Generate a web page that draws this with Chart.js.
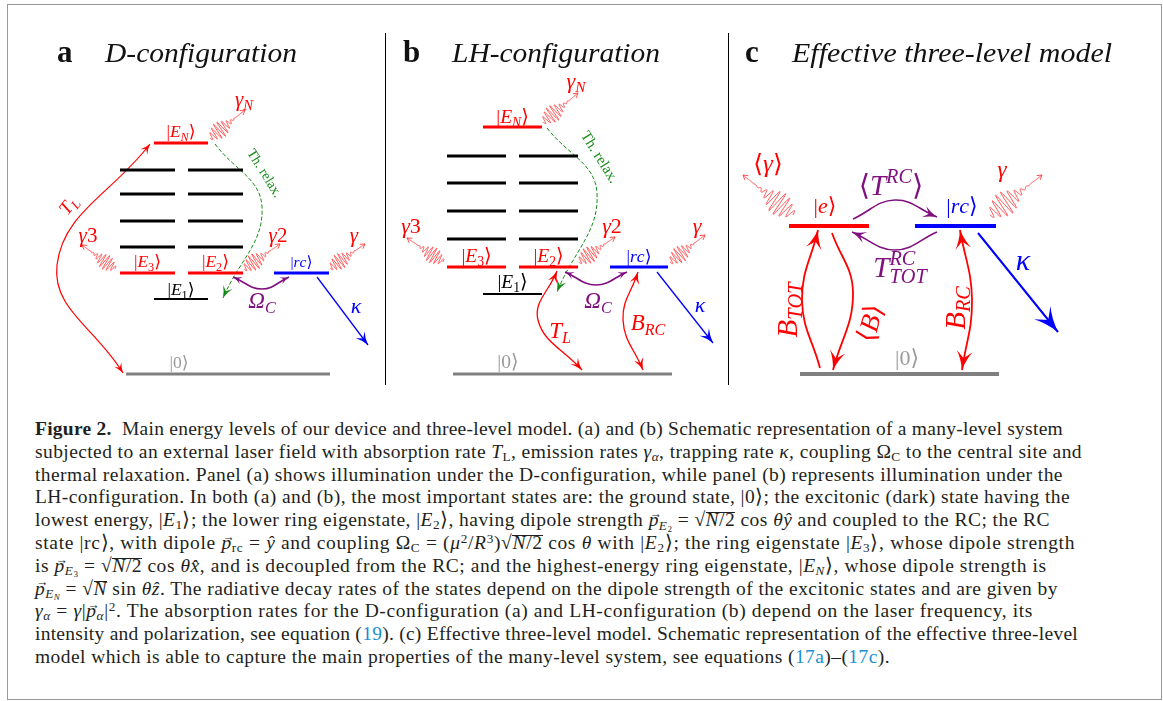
<!DOCTYPE html>
<html>
<head>
<meta charset="utf-8">
<title>Energy levels and three-level model</title>
<script src="https://cdn.jsdelivr.net/npm/chart.js"></script>
<style>
  body { margin: 0; background: #fff; }
  #frame { position: absolute; left: 7px; top: 4px; width: 1153px; height: 694px; border: 1px solid #999; }
  #wrap { position: absolute; left: 0; top: 0; width: 1163px; height: 400px; }
  .sep { position: absolute; top: 33px; height: 352px; width: 1px; background: #000; }
  #caption { position: absolute; left: 35px; top: 418px; font: 19.5px "Liberation Serif", serif; line-height: 22.8px; color: #231f20; white-space: nowrap; }
  #caption div { height: 22.8px; }
  #caption sub, #caption sup { font-size: 0.68em; line-height: 0; }
  #caption sub { vertical-align: -0.25em; }
  #caption sup { vertical-align: 0.45em; }
  #caption a { color: #1a8fd2; text-decoration: none; }
  .ov { position: relative; }
  .ov::before { content: ''; position: absolute; left: 0; right: 0; top: 0.16em; border-top: 1px solid #231f20; }
  .vec { position: relative; font-style: italic; }
  .vec::after { content: '→'; position: absolute; left: 0.08em; top: -0.52em; font-size: 0.62em; font-style: normal; }
</style>
</head>
<body>
<div id="frame"></div>
<div id="wrap"><canvas id="diagram"></canvas></div>
<div class="sep" style="left:385px"></div>
<div class="sep" style="left:728px"></div>
<div id="caption">
  <div><b>Figure 2.</b>&nbsp;&nbsp;Main energy levels of our device and three-level model. (a) and (b) Schematic representation of a many-level system</div>
  <div>subjected to an external laser field with absorption rate <i>T</i><sub>L</sub>, emission rates <i>γ<sub>α</sub></i>, trapping rate <i>κ</i>, coupling Ω<sub>C</sub> to the central site and</div>
  <div>thermal relaxation. Panel (a) shows illumination under the D-configuration, while panel (b) represents illumination under the</div>
  <div>LH-configuration. In both (a) and (b), the most important states are: the ground state, |0⟩; the excitonic (dark) state having the</div>
  <div>lowest energy, |<i>E</i><sub>1</sub>⟩; the lower ring eigenstate, |<i>E</i><sub>2</sub>⟩, having dipole strength <span class="vec">p</span><sub><i>E</i><sub>2</sub></sub> = √<span class="ov"><i>N</i>/2</span> cos <i>θŷ</i> and coupled to the RC; the RC</div>
  <div>state |rc⟩, with dipole <span class="vec">p</span><sub>rc</sub> = <i>ŷ</i> and coupling Ω<sub>C</sub> = (<i>μ</i><sup>2</sup>/<i>R</i><sup>3</sup>)√<span class="ov"><i>N</i>/2</span> cos <i>θ</i> with |<i>E</i><sub>2</sub>⟩; the ring eigenstate |<i>E</i><sub>3</sub>⟩, whose dipole strength</div>
  <div>is <span class="vec">p</span><sub><i>E</i><sub>3</sub></sub> = √<span class="ov"><i>N</i>/2</span> cos <i>θx̂</i>, and is decoupled from the RC; and the highest-energy ring eigenstate, |<i>E<sub>N</sub></i>⟩, whose dipole strength is</div>
  <div><span class="vec">p</span><sub><i>E<sub>N</sub></i></sub> = √<span class="ov"><i>N</i></span> sin <i>θẑ</i>. The radiative decay rates of the states depend on the dipole strength of the excitonic states and are given by</div>
  <div><i>γ<sub>α</sub></i> = <i>γ</i>|<span class="vec">p</span><sub><i>α</i></sub>|<sup>2</sup>. The absorption rates for the D-configuration (a) and LH-configuration (b) depend on the laser frequency, its</div>
  <div>intensity and polarization, see equation (<a>19</a>). (c) Effective three-level model. Schematic representation of the effective three-level</div>
  <div>model which is able to capture the main properties of the many-level system, see equations (<a>17a</a>)–(<a>17c</a>).</div>
</div>

<script>
// ---------------- data ----------------
// energies in arbitrary units, ground state |0> = 0

// panel a: D-configuration
const statesA = ['EN', 'E3', 'E2', 'E1', 'rc', 'G'];
const ketsA = ['|E_N⟩', '|E_3⟩', '|E_2⟩', '|E_1⟩', '|rc⟩', '|0⟩'];
const energyA = [231, 101, 101, 75, 101, 0];
const ladderA = [204, 180, 153, 127];
const ratesA = ['T_L', 'Th. relax.', 'Ω_C', 'κ', 'γ_N', 'γ3', 'γ2', 'γ'];

// panel b: LH-configuration
const statesB = ['EN', 'E3', 'E2', 'E1', 'rc', 'G'];
const ketsB = ['|E_N⟩', '|E_3⟩', '|E_2⟩', '|E_1⟩', '|rc⟩', '|0⟩'];
const energyB = [247, 107, 107, 80, 107, 0];
const ladderB = [218, 191, 163, 135];
const ratesB = ['T_L', 'B_{RC}', 'Ω_C', 'Th. relax.', 'κ', 'γ_N', 'γ3', 'γ2', 'γ'];

// panel c: effective three-level model
const statesC = ['e', 'rc', 'G'];
const ketsC = ['|e⟩', '|rc⟩', '|0⟩'];
const energyC = [148, 148, 0];
const ratesC = ['⟨T^{RC}⟩', 'T^{RC}_{TOT}', 'B_{TOT}', '⟨B⟩', 'B_{RC}', 'κ', '⟨γ⟩', 'γ'];

const panelLetters = ['a', 'b', 'c'];
const panelTitles = ['D-configuration', 'LH-configuration', 'Effective three-level model'];

// ---------------- layout / style ----------------
const RED = '#ff0000', BLUE = '#0000ff', PURPLE = '#80107f', GREEN = '#168a16',
      GREY = '#808080', BLACK = '#000000', PHOTON = 'rgba(255,50,50,0.85)';
const SERIF = '"Liberation Serif", "DejaVu Serif", serif';

const STATE_COLOR = { EN: RED, E3: RED, E2: RED, E1: BLACK, rc: BLUE, G: GREY, e: RED };

// arrow ends: [x, state, dy] -> y = energy(state) + dy ; state null -> y = dy
const panels = [
  {
    states: statesA, kets: ketsA, energy: energyA, ladder: ladderA, rates: ratesA,
    cols: { EN: [154, 208], E3: [120, 175], E2: [188, 243], E1: [154, 208], rc: [274, 329], G: [126, 330] },
    ladderCols: [[120, 175], [188, 243]],
    width: { EN: 3, E3: 3, E2: 3, E1: 2, rc: 3, G: 3 },
    ket: { size: 17.5, dy: 6, x: { G: 179 }, dyOf: { E1: 4 } },
    title: { letterX: 57, x: 105, w: 192 },
    arrows: {
      'T_L':        { from: [150, 'EN', -1], via: [57, 109], to: [123, 'G', 1], heads: 'both', color: RED, w: 1.2, head: 10 },
      'Th. relax.': { from: [215, 'EN', -1], via: [262, 167], to: [223, 'E1', 1], heads: 'end', color: GREEN, w: 1, head: 12, dash: [4, 2] },
      'Ω_C':        { from: [233, 'E2', -4], via: [262, 85], to: [289, 'rc', -4], heads: 'both', color: PURPLE, w: 1.6, head: 9 },
      'κ':          { from: [317, 'rc', -4], to: [368, null, 29], heads: 'end', color: BLUE, w: 1.3, head: 13 }
    },
    photons: {
      'γ_N': { from: [210, 'EN', 5], to: [245, null, 264] },
      'γ3':  { from: [115, 'E3', 4], to: [82, null, 129] },
      'γ2':  { from: [244, 'E2', 4], to: [280, null, 130] },
      'γ':   { from: [330, 'rc', 5], to: [365, null, 130] }
    },
    labels: {
      'T_L': [68, 169, 19, -52], 'Th. relax.': [265, 201, 14, 58], 'Ω_C': [262, 66, 23],
      'κ': [356, 61, 22], 'γ_N': [244, 268, 21], 'γ3': [88, 132, 21], 'γ2': [278, 132, 21], 'γ': [354, 132, 21]
    }
  },
  {
    states: statesB, kets: ketsB, energy: energyB, ladder: ladderB, rates: ratesB,
    cols: { EN: [483, 542], E3: [447, 506], E2: [519, 578], E1: [483, 542], rc: [610, 668], G: [453, 672] },
    ladderCols: [[447, 506], [519, 578]],
    width: { EN: 3, E3: 3, E2: 3, E1: 2, rc: 3, G: 3 },
    ket: { size: 19.5, dy: 5, x: { G: 508 }, dyOf: { E1: 6, EN: 4, G: 6 } },
    title: { letterX: 403, x: 452, w: 208 },
    arrows: {
      'T_L':        { from: [557, 'E2', -4], via: [538, 54], to: [582, 'G', 4], heads: 'both', color: RED, w: 1.3, head: 12 },
      'B_{RC}':     { from: [638, 'rc', -5], via: [623, 54], to: [643, 'G', 4], heads: 'both', color: RED, w: 1.3, head: 12 },
      'Ω_C':        { from: [565, 'E2', -5], via: [596, 89], to: [627, 'rc', -5], heads: 'both', color: PURPLE, w: 1.6, head: 9 },
      'Th. relax.': { from: [547, 'EN', -1], via: [597, 181], to: [557, 'E1', 2], heads: 'end', color: GREEN, w: 1, head: 12, dash: [4, 2] },
      'κ':          { from: [657, 'rc', -5], to: [713, null, 31], heads: 'end', color: BLUE, w: 1.3, head: 14 }
    },
    photons: {
      'γ_N': { from: [543, 'EN', 5], to: [578, null, 281] },
      'γ3':  { from: [443, 'E3', 5], to: [407, null, 136] },
      'γ2':  { from: [579, 'E2', 5], to: [615, null, 137] },
      'γ':   { from: [670, 'rc', 5], to: [705, null, 139] }
    },
    labels: {
      'T_L': [560, 36, 23], 'B_{RC}': [648, 44, 23], 'Ω_C': [598, 66, 23], 'Th. relax.': [600, 217, 15, 58],
      'κ': [700, 62, 22], 'γ_N': [576, 286, 22], 'γ3': [411, 141, 22], 'γ2': [612, 141, 22], 'γ': [697, 141, 22]
    }
  },
  {
    states: statesC, kets: ketsC, energy: energyC, ladder: [], rates: ratesC,
    cols: { e: [789, 869], rc: [915, 996], G: [800, 999] },
    ladderCols: [],
    width: { e: 4, rc: 4, G: 4 },
    ket: { size: 22, dy: 13, x: { e: 825, rc: 962, G: 907 }, dyOf: { G: 9 } },
    title: { letterX: 745, x: 792, w: 320 },
    arrows: {
      '⟨T^{RC}⟩':     { from: [853, 'e', 7], via: [895, 174], to: [937, 'rc', 9], heads: 'end', color: PURPLE, w: 1.6, head: 14 },
      'T^{RC}_{TOT}': { from: [937, 'rc', -6], via: [895, 124], to: [852, 'e', -6], heads: 'end', color: PURPLE, w: 1.6, head: 14 },
      'B_{TOT}':      { from: [820, 'G', 6], via: [802, 74], to: [818, 'e', -4], heads: 'end', color: RED, w: 1.8, head: 19 },
      '⟨B⟩':          { from: [832, 'e', -7], via: [853, 81], to: [833, 'G', 4], heads: 'end', color: RED, w: 1.8, head: 19 },
      'B_{RC}':       { from: [960, 'rc', -4], via: [972, 74], to: [962, 'G', 4], heads: 'both', color: RED, w: 1.8, head: 19 },
      'κ':            { from: [978, 'rc', -7], to: [1058, null, 42], heads: 'end', color: BLUE, w: 2, head: 25 }
    },
    photons: {
      '⟨γ⟩': { from: [793, 'e', 11], to: [743, null, 199] },
      'γ':   { from: [990, 'rc', 11], to: [1042, null, 199] }
    },
    labels: {
      '⟨T^{RC}⟩': [891, 179, 29], 'T^{RC}_{TOT}': [900, 97, 29], 'B_{TOT}': [787, 64, 29, -90],
      '⟨B⟩': [870, 51, 27, -75], 'B_{RC}': [955, 66, 29, -90], 'κ': [1023, 104, 30],
      '⟨γ⟩': [768, 202, 25], 'γ': [1002, 197, 23]
    }
  }
];

// ---------------- helpers ----------------
function energyOf(p, name) {
  return p.energy[p.states.indexOf(name)];
}
function endPoint(p, spec) {
  const [x, state, dy] = spec;
  return { x: x, y: state ? energyOf(p, state) + dy : dy };
}

// tiny math text renderer: x_{sub}, x^{sup}
function mathRuns(str) {
  const runs = [];
  let i = 0;
  while (i < str.length) {
    const c = str[i];
    if (c === '_' || c === '^') {
      let t;
      if (str[i + 1] === '{') {
        const j = str.indexOf('}', i);
        t = str.slice(i + 2, j);
        i = j + 1;
      } else {
        t = str[i + 1];
        i += 2;
      }
      runs.push({ t, lvl: c === '_' ? -1 : 1 });
    } else {
      let j = i;
      while (j < str.length && str[j] !== '_' && str[j] !== '^') j++;
      runs.push({ t: str.slice(i, j), lvl: 0 });
      i = j;
    }
  }
  return runs;
}

function fontFor(ch, size, roman) {
  const upright = roman || /[|⟨⟩0-9().,\- ]/.test(ch);
  return (upright ? '' : 'italic ') + size + 'px ' + SERIF;
}

function drawMath(ctx, str, x, y, size, color, rotDeg, opts) {
  opts = opts || {};
  const items = [];
  let cx = 0, lastScript = null;
  mathRuns(str).forEach((r) => {
    const s = r.lvl ? size * 0.7 : size;
    const dy = r.lvl > 0 ? -size * 0.42 : r.lvl < 0 ? size * 0.2 : 0;
    const stacked = r.lvl && lastScript && lastScript.lvl === -r.lvl;
    const startX = stacked ? lastScript.x0 : cx;
    let w = 0;
    for (const ch of r.t) {
      const font = fontFor(ch, s, opts.roman);
      ctx.font = font;
      items.push({ ch, font, x: startX + w, dy });
      w += ctx.measureText(ch).width;
    }
    if (stacked) {
      cx = Math.max(cx, startX + w);
      lastScript = null;
    } else {
      cx = startX + w;
      lastScript = r.lvl ? { lvl: r.lvl, x0: startX } : null;
    }
  });
  ctx.save();
  ctx.translate(x, y);
  ctx.rotate((rotDeg || 0) * Math.PI / 180);
  ctx.fillStyle = color;
  ctx.textBaseline = 'alphabetic';
  const off = opts.left ? 0 : -cx / 2;
  const base = rotDeg ? size * 0.33 : 0;
  items.forEach((it) => {
    ctx.font = it.font;
    ctx.fillText(it.ch, off + it.x, it.dy + base);
  });
  ctx.restore();
}

// stealth-like arrow head at (tx,ty) pointing along (dx,dy)
function drawHead(ctx, tx, ty, dx, dy, size, color) {
  const len = Math.hypot(dx, dy) || 1;
  const ux = dx / len, uy = dy / len, nx = -uy, ny = ux;
  const w = size * 0.42;
  ctx.save();
  ctx.fillStyle = color;
  ctx.beginPath();
  ctx.moveTo(tx, ty);
  ctx.quadraticCurveTo(tx - ux * size * 0.6 + nx * w * 0.35, ty - uy * size * 0.6 + ny * w * 0.35, tx - ux * size + nx * w, ty - uy * size + ny * w);
  ctx.lineTo(tx - ux * size * 0.62, ty - uy * size * 0.62);
  ctx.lineTo(tx - ux * size - nx * w, ty - uy * size - ny * w);
  ctx.quadraticCurveTo(tx - ux * size * 0.6 - nx * w * 0.35, ty - uy * size * 0.6 - ny * w * 0.35, tx, ty);
  ctx.fill();
  ctx.restore();
}

// ---------------- datasets ----------------
const datasets = [];
panels.forEach((p) => {
  p.states.forEach((s, i) => {
    const [x0, x1] = p.cols[s];
    datasets.push({
      data: [{ x: x0, y: p.energy[i] }, { x: x1, y: p.energy[i] }],
      borderColor: STATE_COLOR[s], borderWidth: p.width[s], kind: 'level'
    });
  });
  p.ladder.forEach((e) => {
    p.ladderCols.forEach(([x0, x1]) => {
      datasets.push({
        data: [{ x: x0, y: e }, { x: x1, y: e }],
        borderColor: BLACK, borderWidth: 3, kind: 'level'
      });
    });
  });
  p.rates.forEach((r) => {
    const a = p.arrows[r];
    if (!a) return;
    const pts = [endPoint(p, a.from)];
    if (a.via) pts.push({ x: a.via[0], y: a.via[1] });
    pts.push(endPoint(p, a.to));
    datasets.push({
      data: pts, borderColor: a.color, borderWidth: a.w, borderDash: a.dash || [],
      tension: 0.42, kind: 'arrow', heads: a.heads, headSize: a.head
    });
  });
});

// photons, labels and titles drawn through the chart scales
const overlayPlugin = {
  id: 'overlay',
  afterDatasetsDraw(chart) {
    const ctx = chart.ctx;
    const sx = chart.scales.x, sy = chart.scales.y;
    const px = (v) => sx.getPixelForValue(v);
    const py = (v) => sy.getPixelForValue(v);

    // arrow heads
    chart.data.datasets.forEach((ds, i) => {
      if (ds.kind !== 'arrow') return;
      const pts = chart.getDatasetMeta(i).data;
      const n = pts.length;
      const last = pts[n - 1], prev = pts[n - 2];
      drawHead(ctx, last.x, last.y, last.x - prev.x, last.y - prev.y, ds.headSize, ds.borderColor);
      if (ds.heads === 'both') {
        drawHead(ctx, pts[0].x, pts[0].y, pts[0].x - pts[1].x, pts[0].y - pts[1].y, ds.headSize, ds.borderColor);
      }
    });

    panels.forEach((p, pi) => {
      // photon wave packets
      p.rates.forEach((r) => {
        const ph = p.photons[r];
        if (!ph) return;
        const a = endPoint(p, ph.from), b = endPoint(p, ph.to);
        const x0 = px(a.x), y0 = py(a.y), x1 = px(b.x), y1 = py(b.y);
        const L = Math.hypot(x1 - x0, y1 - y0);
        const ux = (x1 - x0) / L, uy = (y1 - y0) / L, nx = -uy, ny = ux;
        const amp = L * 0.19, cycles = 11, waveEnd = 0.8;
        ctx.save();
        ctx.strokeStyle = PHOTON;
        ctx.lineWidth = 1;
        ctx.beginPath();
        for (let k = 0; k <= 300; k++) {
          const u = k / 300;
          const s = u * L;
          let off = 0;
          if (u < waveEnd) {
            const env = Math.exp(-Math.pow((u - 0.28) / 0.25, 2));
            off = amp * env * Math.sin(2 * Math.PI * cycles * u);
          }
          const X = x0 + ux * s + nx * off, Y = y0 + uy * s + ny * off;
          if (k === 0) ctx.moveTo(X, Y); else ctx.lineTo(X, Y);
        }
        ctx.stroke();
        // small open arrow tip
        const h = 4.5;
        ctx.beginPath();
        ctx.moveTo(x1 - ux * h + nx * h * 0.6, y1 - uy * h + ny * h * 0.6);
        ctx.lineTo(x1, y1);
        ctx.lineTo(x1 - ux * h - nx * h * 0.6, y1 - uy * h - ny * h * 0.6);
        ctx.stroke();
        ctx.restore();
      });

      // ket labels
      p.states.forEach((s, i) => {
        const [c0, c1] = p.cols[s];
        const lx = p.ket.x[s] !== undefined ? p.ket.x[s] : (c0 + c1) / 2;
        const dy = p.ket.dyOf[s] !== undefined ? p.ket.dyOf[s] : p.ket.dy;
        let col = STATE_COLOR[s];
        if (s === 'G') col = '#9a9a9a';
        const size = s === 'rc' && pi < 2 ? p.ket.size - 2 : p.ket.size;
        drawMath(ctx, p.kets[i], px(lx), py(p.energy[i] + dy), size, col, 0);
      });

      // rate labels
      p.rates.forEach((r) => {
        const l = p.labels[r];
        if (!l) return;
        const src = p.arrows[r] || null;
        const color = src ? src.color : RED;
        drawMath(ctx, r, px(l[0]), py(l[1]), l[2], color, l[3] || 0, { roman: r === 'Th. relax.' });
      });

      // panel title
      const ty = py(312);
      ctx.save();
      ctx.fillStyle = '#111';
      ctx.textBaseline = 'alphabetic';
      ctx.font = 'bold 31px ' + SERIF;
      ctx.fillText(panelLetters[pi], px(p.title.letterX), ty);
      ctx.font = 'italic 27px ' + SERIF;
      const tw = ctx.measureText(panelTitles[pi]).width;
      ctx.translate(px(p.title.x), ty);
      ctx.scale(p.title.w / tw, 1);
      ctx.fillText(panelTitles[pi], 0, 0);
      ctx.restore();
    });
  }
};

new Chart(document.getElementById('diagram'), {
  type: 'scatter',
  data: { datasets: datasets.map((d) => Object.assign({ showLine: true, pointRadius: 0, pointHoverRadius: 0, fill: false }, d)) },
  options: {
    responsive: true,
    maintainAspectRatio: false,
    animation: false,
    events: [],
    layout: { padding: 0 },
    plugins: { legend: { display: false }, tooltip: { enabled: false } },
    scales: {
      x: { type: 'linear', min: 0, max: 1163, display: false },
      y: { type: 'linear', min: -26, max: 374, display: false }
    }
  },
  plugins: [overlayPlugin]
});

// fit caption lines to the measured right edges
const captionRight = [1063, 1082, 1063, 1070, 1050, 1075, 1047, 1058, 1033, 1078, 890];
document.querySelectorAll('#caption div').forEach((div, i) => {
  const span = document.createElement('span');
  while (div.firstChild) span.appendChild(div.firstChild);
  div.appendChild(span);
  const w = span.getBoundingClientRect().width;
  const n = span.textContent.length;
  const target = captionRight[i] - 35;
  span.style.letterSpacing = ((target - w) / n).toFixed(3) + 'px';
});
</script>
</body>
</html>
